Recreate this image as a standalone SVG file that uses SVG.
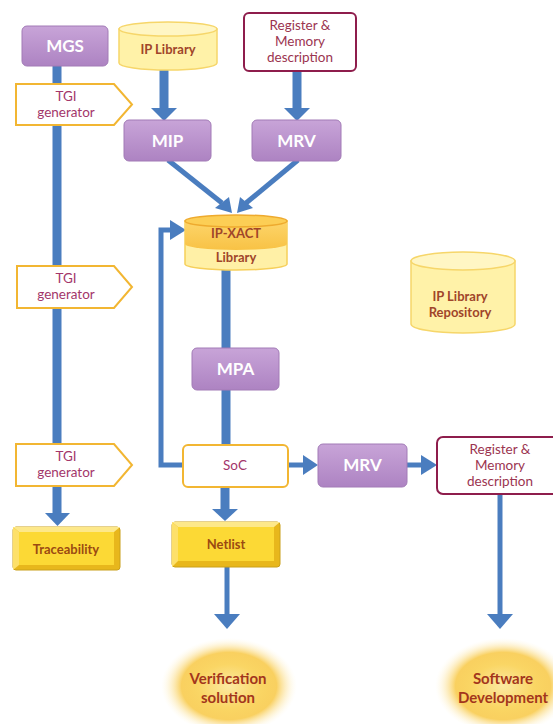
<svg xmlns="http://www.w3.org/2000/svg" width="553" height="724" viewBox="0 0 553 724">
  <defs>
    <style>
      .purple { fill: url(#gPurple); stroke: #a27bb6; stroke-width: 1; }
      .ptext { font-family: Lato, "Open Sans", "Liberation Sans", sans-serif; font-weight: bold; font-size: 17px; fill: #ffffff; text-anchor: middle; }
      .tgi { fill: #ffffff; stroke: #f2b632; stroke-width: 2; }
      .tgitext { font-family: Lato, "Open Sans", "Liberation Sans", sans-serif; font-size: 13.5px; fill: #a3366a; text-anchor: middle; }
      .cyl { fill: #fff2a8; stroke: #f6d66a; stroke-width: 1.5; }
      .cyltop { fill: #fff6c4; stroke: #f6d66a; stroke-width: 1.5; }
      .brown { font-family: Lato, "Open Sans", "Liberation Sans", sans-serif; font-weight: bold; font-size: 13px; fill: #a0452a; text-anchor: middle; }
      .reg { fill: #ffffff; stroke: #8e1d4c; stroke-width: 2; }
      .regtext { font-family: Lato, "Open Sans", "Liberation Sans", sans-serif; font-size: 13.5px; fill: #9b3450; text-anchor: middle; }
      .bevel { fill: #e8b71c; stroke: #caa01a; stroke-width: 1; }
      .bevelface { fill: #fcd935; }
      .btext { font-family: Lato, "Open Sans", "Liberation Sans", sans-serif; font-weight: bold; font-size: 13px; fill: #9b4a12; text-anchor: middle; }
      .gtext { font-family: Lato, "Open Sans", "Liberation Sans", sans-serif; font-weight: bold; font-size: 15px; fill: #a3361c; text-anchor: middle; }
      .thick { stroke: #4a7dbf; stroke-width: 9; fill: none; }
      .thin { stroke: #4a7dbf; stroke-width: 5; fill: none; }
      .head { fill: #4a7dbf; }
    </style>
    <linearGradient id="gPurple" x1="0" y1="0" x2="0" y2="1">
      <stop offset="0" stop-color="#c8a4d8"/>
      <stop offset="1" stop-color="#ad83c2"/>
    </linearGradient>
    <linearGradient id="gXact" x1="0" y1="0" x2="0" y2="1">
      <stop offset="0" stop-color="#fdd56a"/>
      <stop offset="1" stop-color="#f8c245"/>
    </linearGradient>
    <radialGradient id="gGlow" cx="0.5" cy="0.5" r="0.5">
      <stop offset="0" stop-color="#fce9a2"/>
      <stop offset="0.45" stop-color="#fad665"/>
      <stop offset="0.7" stop-color="#f8c844" stop-opacity="0.85"/>
      <stop offset="1" stop-color="#fff6d8" stop-opacity="0"/>
    </radialGradient>
  </defs>

  <rect width="553" height="724" fill="#ffffff"/>

  <!-- connectors -->
  <g id="connectors">
    <!-- MGS trunk down to Traceability -->
    <line class="thick" x1="57" y1="64" x2="57" y2="515"/>
    <polygon class="head" points="45,513 70,513 57.5,526"/>
    <!-- IP Library to MIP -->
    <line class="thick" x1="164" y1="70" x2="164" y2="110"/>
    <polygon class="head" points="151,108 177,108 164,121"/>
    <!-- Register description to MRV -->
    <line class="thick" x1="297" y1="71" x2="297" y2="110"/>
    <polygon class="head" points="284,108 310,108 297,121"/>
    <!-- MIP and MRV into IP-XACT -->
    <line class="thin" x1="168" y1="160" x2="222" y2="203"/>
    <polygon class="head" points="215,208 229,197 232,213"/>
    <line class="thin" x1="298" y1="160" x2="246" y2="203"/>
    <polygon class="head" points="237,213 240,197 253,208"/>
    <!-- IP-XACT down to MPA -->
    <line class="thick" x1="226" y1="270" x2="226" y2="348"/>
    <!-- MPA down to SoC -->
    <line class="thick" x1="226" y1="390" x2="226" y2="445"/>
    <!-- SoC feedback to IP-XACT -->
    <polyline class="thin" points="183,465 161,465 161,230 172,230"/>
    <polygon class="head" points="170,220 186,230 170,240"/>
    <!-- SoC to Netlist -->
    <line class="thick" x1="225" y1="487" x2="225" y2="511"/>
    <polygon class="head" points="212,509 238,509 225,521"/>
    <!-- SoC to MRV -->
    <line class="thin" x1="288" y1="465" x2="305" y2="465"/>
    <polygon class="head" points="303,455 318,465 303,475"/>
    <!-- MRV to Register description -->
    <line class="thin" x1="407" y1="465" x2="423" y2="465"/>
    <polygon class="head" points="421,455 437,465 421,475"/>
    <!-- Netlist to verification -->
    <line class="thin" x1="227" y1="567" x2="227" y2="616"/>
    <polygon class="head" points="214,614 240,614 227,629"/>
    <!-- Register description to software -->
    <line class="thin" x1="500" y1="494" x2="500" y2="616"/>
    <polygon class="head" points="487,614 513,614 500,629"/>
  </g>

  <!-- MGS -->
  <g id="mgs">
    <rect class="purple" x="22" y="26" width="86" height="40" rx="5"/>
    <text class="ptext" x="65" y="52">MGS</text>
  </g>

  <!-- IP Library -->
  <g id="ip-library">
    <path class="cyl" d="M119,29 L119,63 A49,7 0 0 0 217,63 L217,29 Z"/>
    <ellipse class="cyltop" cx="168" cy="29" rx="49" ry="7"/>
    <text class="brown" x="168" y="54">IP Library</text>
  </g>

  <!-- Register & Memory description (top) -->
  <g id="reg-desc-top">
    <rect class="reg" x="244" y="13" width="112" height="58" rx="5"/>
    <text class="regtext" x="300" y="30">Register &amp;</text>
    <text class="regtext" x="300" y="46">Memory</text>
    <text class="regtext" x="300" y="62">description</text>
  </g>

  <!-- TGI generators -->
  <g id="tgi-1">
    <polygon class="tgi" points="16,84 114,84 132,104.5 114,125 16,125"/>
    <text class="tgitext" x="66" y="101">TGI</text>
    <text class="tgitext" x="66" y="117">generator</text>
  </g>
  <g id="tgi-2">
    <polygon class="tgi" points="17,266 114,266 132,287 114,308 17,308"/>
    <text class="tgitext" x="66" y="283">TGI</text>
    <text class="tgitext" x="66" y="299">generator</text>
  </g>
  <g id="tgi-3">
    <polygon class="tgi" points="16,444 114,444 132,465 114,486 16,486"/>
    <text class="tgitext" x="66" y="461">TGI</text>
    <text class="tgitext" x="66" y="477">generator</text>
  </g>

  <!-- MIP -->
  <g id="mip">
    <rect class="purple" x="124" y="120" width="87" height="41" rx="5"/>
    <text class="ptext" x="167.5" y="147">MIP</text>
  </g>

  <!-- MRV (top) -->
  <g id="mrv-top">
    <rect class="purple" x="252" y="120" width="89" height="41" rx="5"/>
    <text class="ptext" x="296.5" y="147">MRV</text>
  </g>

  <!-- IP-XACT Library -->
  <g id="ip-xact">
    <path d="M185,221 L185,264 A51,6 0 0 0 287,264 L287,221 Z" fill="#fff0a6" stroke="#f6cf5a" stroke-width="1.5"/>
    <path d="M185,221 L185,244 A51,6 0 0 0 287,244 L287,221 Z" fill="url(#gXact)"/>
    <ellipse cx="236" cy="221" rx="51" ry="6" fill="#fcce55" stroke="#eeaa2e" stroke-width="1.5"/>
    <text class="brown" x="236" y="238">IP-XACT</text>
    <text class="brown" x="236" y="262">Library</text>
  </g>

  <!-- IP Library Repository -->
  <g id="ip-repo">
    <path class="cyl" d="M411,261 L411,324 A52,9 0 0 0 515,324 L515,261 Z"/>
    <ellipse class="cyltop" cx="463" cy="261" rx="52" ry="9"/>
    <text class="brown" x="460" y="301">IP Library</text>
    <text class="brown" x="460" y="317">Repository</text>
  </g>

  <!-- MPA -->
  <g id="mpa">
    <rect class="purple" x="192" y="348" width="87" height="42" rx="5"/>
    <text class="ptext" x="235.5" y="375">MPA</text>
  </g>

  <!-- SoC -->
  <g id="soc">
    <rect x="183" y="445" width="105" height="42" rx="5" fill="#ffffff" stroke="#f2b632" stroke-width="2"/>
    <text class="tgitext" x="235" y="470">SoC</text>
  </g>

  <!-- MRV (bottom) -->
  <g id="mrv-bottom">
    <rect class="purple" x="318" y="444" width="89" height="43" rx="5"/>
    <text class="ptext" x="362.5" y="471">MRV</text>
  </g>

  <!-- Register & Memory description (bottom) -->
  <g id="reg-desc-bottom">
    <rect class="reg" x="437" y="437" width="126" height="57" rx="6"/>
    <text class="regtext" x="500" y="454">Register &amp;</text>
    <text class="regtext" x="500" y="470">Memory</text>
    <text class="regtext" x="500" y="486">description</text>
  </g>

  <!-- Traceability -->
  <g id="traceability">
    <rect class="bevel" x="13" y="527" width="107" height="43" rx="3"/>
    <polygon points="13,527 120,527 114,532 19,532" fill="#fde88a"/>
    <polygon points="13,527 19,532 19,565 13,570" fill="#fde06a"/>
    <rect class="bevelface" x="19" y="532" width="95" height="33"/>
    <text class="btext" x="66" y="554">Traceability</text>
  </g>

  <!-- Netlist -->
  <g id="netlist">
    <rect class="bevel" x="172" y="522" width="108" height="45" rx="3"/>
    <polygon points="172,522 280,522 274,527 178,527" fill="#fde88a"/>
    <polygon points="172,522 178,527 178,561 172,567" fill="#fde06a"/>
    <rect class="bevelface" x="178" y="527" width="96" height="34"/>
    <text class="btext" x="226" y="549">Netlist</text>
  </g>

  <!-- Verification solution -->
  <g id="verification">
    <ellipse cx="229" cy="686" rx="68" ry="48" fill="url(#gGlow)"/>
    <text class="gtext" x="228" y="684">Verification</text>
    <text class="gtext" x="228" y="703">solution</text>
  </g>

  <!-- Software Development -->
  <g id="software">
    <ellipse cx="503" cy="686" rx="68" ry="48" fill="url(#gGlow)"/>
    <text class="gtext" x="503" y="684">Software</text>
    <text class="gtext" x="503" y="703">Development</text>
  </g>
</svg>
